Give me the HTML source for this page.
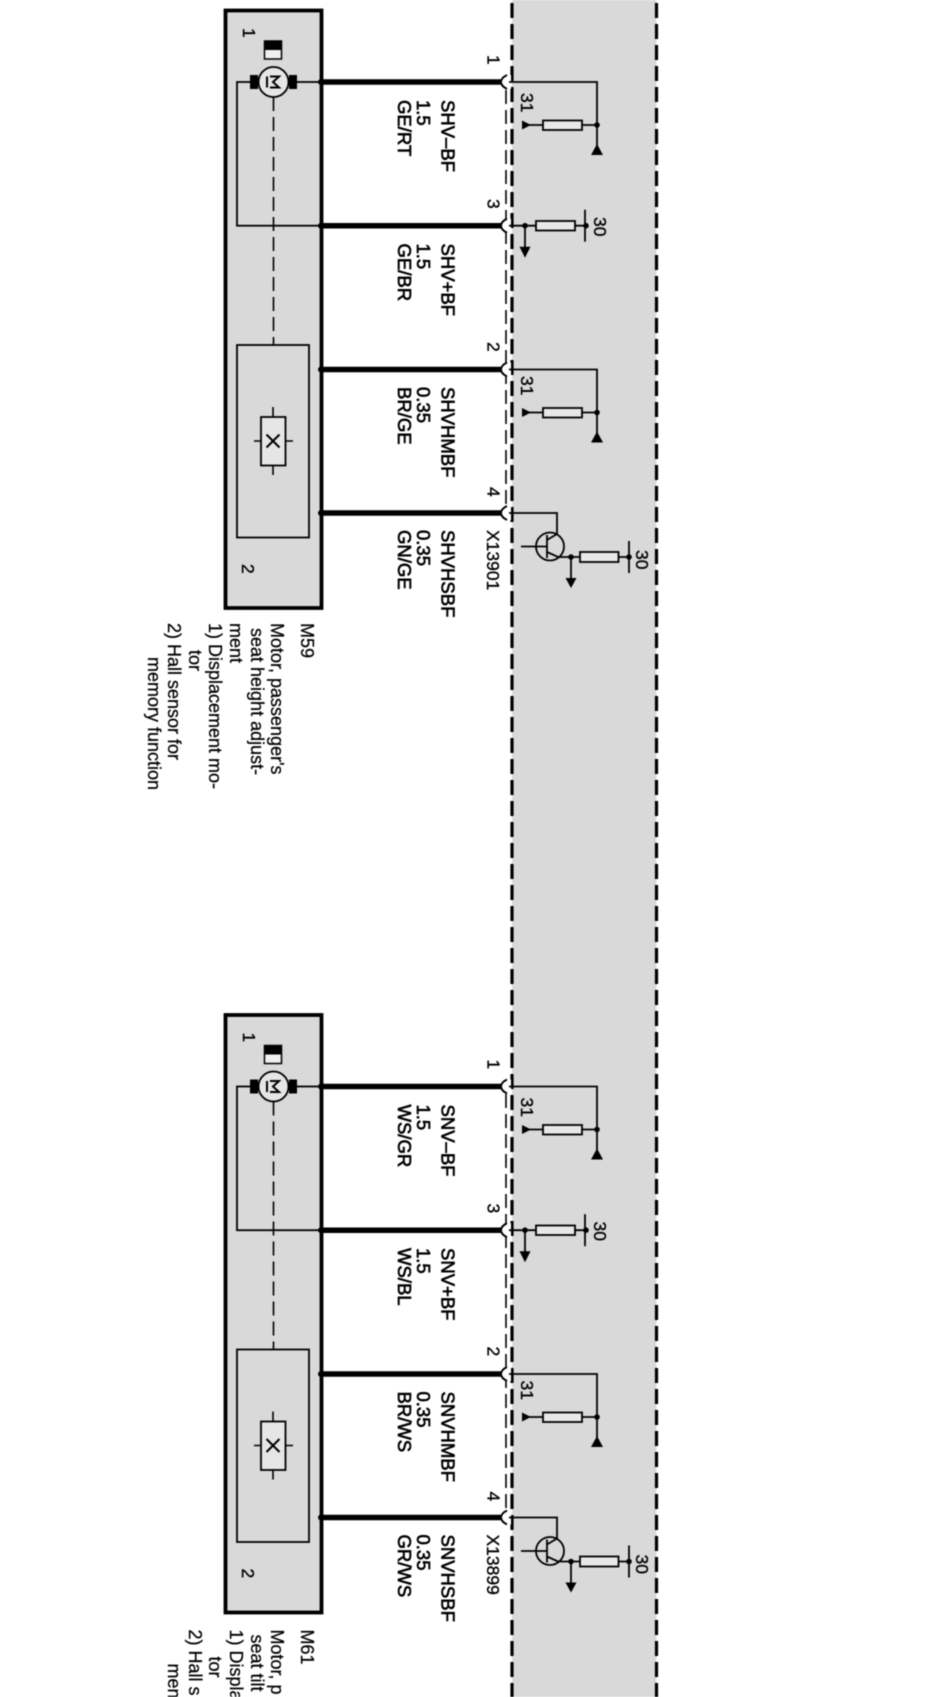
<!DOCTYPE html>
<html><head><meta charset="utf-8"><title>Wiring diagram</title>
<style>
html,body{margin:0;padding:0;background:#fff;width:941px;height:1697px;overflow:hidden}
svg{display:block;filter:blur(.5px)}
text{font-family:"Liberation Sans",sans-serif;fill:#000}
.w{font-size:18.5px;stroke:#000;stroke-width:.65px}
.p{font-size:17.5px;stroke:#000;stroke-width:.35px}
.n{font-size:18px;stroke:#000;stroke-width:.25px}
.t{fill:none;stroke:#000;stroke-width:1.8}
</style></head><body>
<svg width="941" height="1697" viewBox="0 0 941 1697" xmlns="http://www.w3.org/2000/svg">
<defs>
<g id="hook">
<line x1="321" y1="0" x2="503" y2="0" stroke="#000" stroke-width="5.500"/>
<circle cx="321" cy="0" r="3" fill="#000"/>
<path d="M507 -7 Q501 -4 501 0 Q501 4 507 7 L511 7 L511 -7Z" fill="#fff"/>
<path d="M507 -7 Q501 -4 501 0 Q501 4 507 7" fill="none" stroke="#000" stroke-width="2"/>
</g>
<g id="g31">
<use href="#hook"/>
<path class="t" d="M509 0H597V64"/>
<circle cx="597" cy="43" r="2.800" fill="#000"/>
<rect x="543" y="38.500" width="39" height="9.500" fill="#e8e8e8" stroke="#000" stroke-width="1.800"/>
<path class="t" d="M582 43H597M529 43H543"/>
<path d="M522 38.500L531 43L522 47.500Z" fill="#000"/>
<path d="M597 62L603 73H591Z" fill="#000"/>
</g>
<g id="g30">
<use href="#hook"/>
<path class="t" d="M509 0H536M575 0H586M525 0V24"/>
<circle cx="525" cy="0" r="2.800" fill="#000"/>
<circle cx="586" cy="0" r="2.800" fill="#000"/>
<rect x="536" y="-4.700" width="39" height="9.500" fill="#e8e8e8" stroke="#000" stroke-width="1.800"/>
<line x1="585" y1="-16" x2="585" y2="16" stroke="#000" stroke-width="1.800"/>
<path d="M519.500 21H530.500L525 32Z" fill="#000"/>
</g>
<g id="gT">
<use href="#hook"/>
<path class="t" d="M509 0H557V21L547 27M521 33.500H547M547 22V45M547 39L558 44H580M618 44H629M571 44V68"/>
<circle cx="550" cy="33.500" r="14" fill="none" stroke="#000" stroke-width="1.800"/>
<circle cx="571" cy="44" r="2.800" fill="#000"/>
<circle cx="629" cy="44" r="2.800" fill="#000"/>
<rect x="580" y="39" width="38.500" height="10" fill="#e8e8e8" stroke="#000" stroke-width="1.800"/>
<line x1="629" y1="28" x2="629" y2="60" stroke="#000" stroke-width="1.800"/>
<path d="M565.500 65H576.500L571 75Z" fill="#000"/>
</g>
<g id="box">
<rect x="225.500" y="10.500" width="96" height="597.500" fill="#d9d9d9" stroke="#000" stroke-width="3.800"/>
<rect x="237" y="82" width="84" height="143.700" fill="none" stroke="#000" stroke-width="1.800"/>
<line x1="273.500" y1="97" x2="273.500" y2="345" stroke="#000" stroke-width="1.600" stroke-dasharray="14 6"/>
<rect x="289" y="75" width="8" height="14" fill="#000"/>
<rect x="250" y="75" width="8" height="14" fill="#000"/>
<circle cx="273.500" cy="82" r="15" fill="#e6e6e6" stroke="#000" stroke-width="1.800"/>
<path d="M267 76.500V87.500" stroke="#000" stroke-width="2"/>
<path d="M270 76.500H279L273 82L279 87.500H270" fill="none" stroke="#000" stroke-width="2"/>
<rect x="264.500" y="41" width="17" height="18" fill="#f0f0f0" stroke="#000" stroke-width="1.500"/>
<rect x="264.500" y="41" width="17" height="9" fill="#000"/>
<rect x="237" y="345" width="72" height="192.500" fill="none" stroke="#000" stroke-width="1.800"/>
<line x1="273" y1="407" x2="273" y2="475" stroke="#000" stroke-width="1.600"/>
<line x1="254" y1="441" x2="293" y2="441" stroke="#000" stroke-width="1.600"/>
<rect x="261" y="417" width="24.500" height="48.500" fill="#e6e6e6" stroke="#000" stroke-width="1.800"/>
<path d="M266.500 434.500L279.500 447.500M279.500 434.500L266.500 447.500" stroke="#000" stroke-width="2" fill="none"/>
</g>
</defs>

<rect x="512" y="0" width="144.500" height="1697" fill="#d9d9d9"/>
<line x1="512" y1="0" x2="512" y2="1697" stroke="#000" stroke-width="3.200" stroke-dasharray="15 6" stroke-dashoffset="-3"/>
<line x1="656.500" y1="0" x2="656.500" y2="1697" stroke="#000" stroke-width="3.200" stroke-dasharray="15 6" stroke-dashoffset="-3"/>
<line x1="506" y1="90" x2="506" y2="506" stroke="#000" stroke-width="1.600" stroke-dasharray="14 6"/>
<line x1="506" y1="1094" x2="506" y2="1510" stroke="#000" stroke-width="1.600" stroke-dasharray="14 6"/>

<!-- M59 -->
<use href="#box"/>
<use href="#g31" y="82"/>
<use href="#g30" y="225.700"/>
<use href="#g31" y="369.500"/>
<use href="#gT" y="513"/>

<text class="w" transform="translate(441.500,100) rotate(90)">SHV–BF</text>
<text class="w" transform="translate(417,100) rotate(90)">1.5</text>
<text class="w" transform="translate(398,100) rotate(90)">GE/RT</text>
<text class="w" transform="translate(441.500,243.500) rotate(90)">SHV+BF</text>
<text class="w" transform="translate(417,243.500) rotate(90)">1.5</text>
<text class="w" transform="translate(398,243.500) rotate(90)">GE/BR</text>
<text class="w" transform="translate(441.500,387) rotate(90)">SHVHMBF</text>
<text class="w" transform="translate(417,387) rotate(90)">0.35</text>
<text class="w" transform="translate(398,387) rotate(90)">BR/GE</text>
<text class="w" transform="translate(441.500,530) rotate(90)">SHVHSBF</text>
<text class="w" transform="translate(417,530) rotate(90)">0.35</text>
<text class="w" transform="translate(398,530) rotate(90)">GN/GE</text>
<text class="p" transform="translate(487,530) rotate(90)">X13901</text>
<text class="p" transform="translate(487.500,55) rotate(90)">1</text>
<text class="p" transform="translate(487.500,199) rotate(90)">3</text>
<text class="p" transform="translate(487.500,342) rotate(90)">2</text>
<text class="p" transform="translate(487.500,487) rotate(90)">4</text>
<text class="p" transform="translate(243,28) rotate(90)">1</text>
<text class="p" transform="translate(242,564) rotate(90)">2</text>
<text class="p" transform="translate(521,93) rotate(90)">31</text>
<text class="p" transform="translate(521,376) rotate(90)">31</text>
<text class="p" transform="translate(594,217) rotate(90)">30</text>
<text class="p" transform="translate(636,550) rotate(90)">30</text>
<text class="n" transform="translate(301,623) rotate(90)">M59</text>
<text class="n" transform="translate(271,623) rotate(90)">Motor, passenger's</text>
<text class="n" transform="translate(251,628) rotate(90)">seat height adjust-</text>
<text class="n" transform="translate(230,623) rotate(90)">ment</text>
<text class="n" transform="translate(209,623) rotate(90)">1) Displacement mo-</text>
<text class="n" transform="translate(189,650) rotate(90)">tor</text>
<text class="n" transform="translate(168,623) rotate(90)">2) Hall sensor for</text>
<text class="n" transform="translate(148,657) rotate(90)">memory function</text>

<!-- M61 -->
<g transform="translate(0,1004.500)">
<use href="#box"/>
<use href="#g31" y="82"/>
<use href="#g30" y="225.700"/>
<use href="#g31" y="369.500"/>
<use href="#gT" y="513"/>
<text class="w" transform="translate(441.500,100) rotate(90)">SNV–BF</text>
<text class="w" transform="translate(417,100) rotate(90)">1.5</text>
<text class="w" transform="translate(398,100) rotate(90)">WS/GR</text>
<text class="w" transform="translate(441.500,243.500) rotate(90)">SNV+BF</text>
<text class="w" transform="translate(417,243.500) rotate(90)">1.5</text>
<text class="w" transform="translate(398,243.500) rotate(90)">WS/BL</text>
<text class="w" transform="translate(441.500,387) rotate(90)">SNVHMBF</text>
<text class="w" transform="translate(417,387) rotate(90)">0.35</text>
<text class="w" transform="translate(398,387) rotate(90)">BR/WS</text>
<text class="w" transform="translate(441.500,530) rotate(90)">SNVHSBF</text>
<text class="w" transform="translate(417,530) rotate(90)">0.35</text>
<text class="w" transform="translate(398,530) rotate(90)">GR/WS</text>
<text class="p" transform="translate(487,530) rotate(90)">X13899</text>
<text class="p" transform="translate(487.500,55) rotate(90)">1</text>
<text class="p" transform="translate(487.500,199) rotate(90)">3</text>
<text class="p" transform="translate(487.500,342) rotate(90)">2</text>
<text class="p" transform="translate(487.500,487) rotate(90)">4</text>
<text class="p" transform="translate(243,28) rotate(90)">1</text>
<text class="p" transform="translate(242,564) rotate(90)">2</text>
<text class="p" transform="translate(521,93) rotate(90)">31</text>
<text class="p" transform="translate(521,376) rotate(90)">31</text>
<text class="p" transform="translate(594,217) rotate(90)">30</text>
<text class="p" transform="translate(636,550) rotate(90)">30</text>
<text class="n" transform="translate(301,625) rotate(90)">M61</text>
<text class="n" transform="translate(271,625) rotate(90)">Motor, p</text>
<text class="n" transform="translate(251,630) rotate(90)">seat tilt</text>
<text class="n" transform="translate(230,625) rotate(90)">1) Displa</text>
<text class="n" transform="translate(209,652) rotate(90)">tor</text>
<text class="n" transform="translate(189,625) rotate(90)">2) Hall s</text>
<text class="n" transform="translate(168,659) rotate(90)">men</text>
</g>
</svg>
</body></html>
